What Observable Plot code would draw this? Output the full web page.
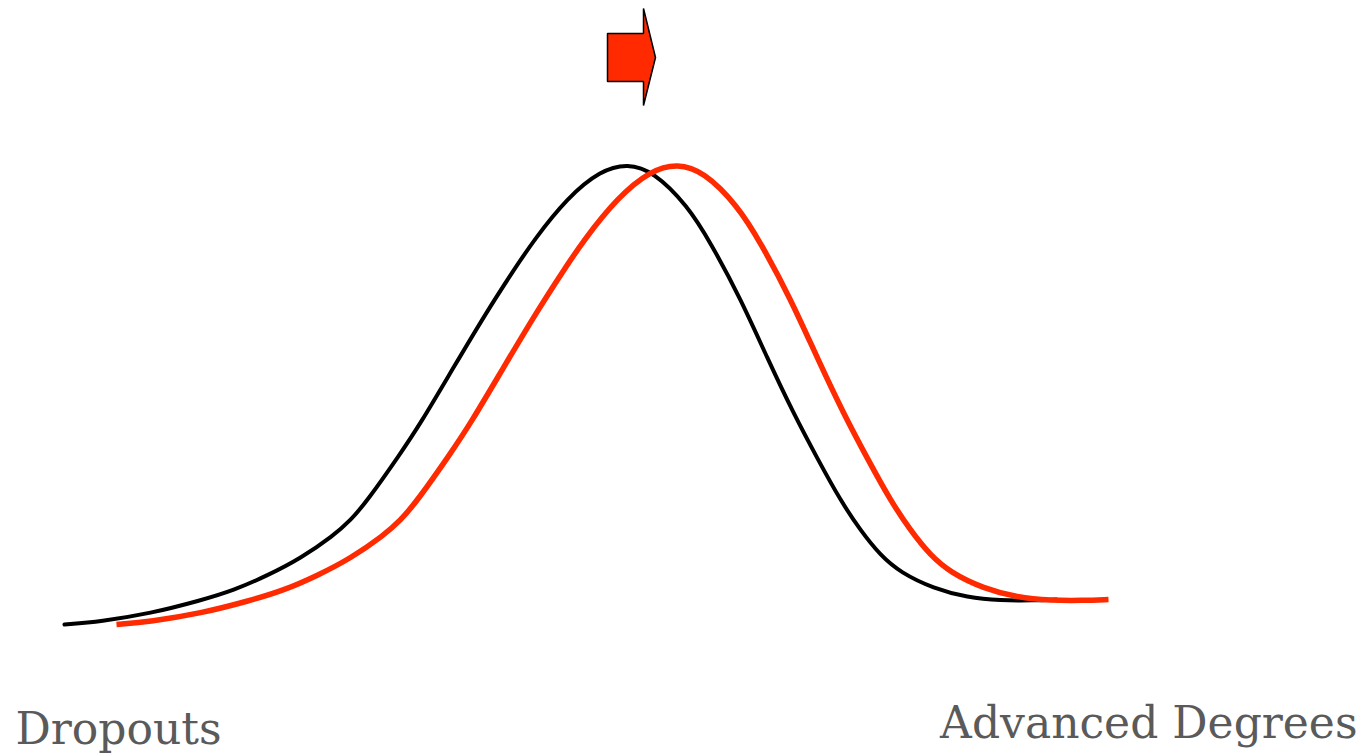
<!DOCTYPE html>
<html>
<head>
<meta charset="utf-8">
<script src="https://cdn.jsdelivr.net/npm/d3@7"></script>
<script src="https://cdn.jsdelivr.net/npm/@observablehq/plot@0.6"></script>
<style>
  html, body { margin: 0; padding: 0; background: #fff; }
  #chart svg { display: block; }
</style>
</head>
<body>
<div id="chart"></div>
<script>
// Black curve (current distribution): education level vs relative density
const blackX = [6.4, 10, 15, 20, 23.3, 26.7, 30, 33.3, 35, 36.7, 40, 42, 45.3, 48.7, 51.3, 53.3, 56.7, 60, 62.7, 65.3, 68.7, 71, 74, 76.7, 79.3, 81.8, 84, 86, 88, 90, 93.3, 96.7, 100, 103.3, 105.6];
const blackY = [13.0, 13.3, 14.1, 15.4, 16.4, 17.9, 19.6, 21.9, 23.4, 25.4, 30.1, 33.1, 38.7, 44.4, 48.4, 51.4, 55.7, 58.4, 59.1, 58.3, 54.9, 51.2, 45.6, 39.6, 34.1, 29.4, 25.4, 22.4, 19.9, 18.2, 16.6, 15.7, 15.4, 15.4, 15.5];

// Red curve (shifted distribution)
const redX = [11.6, 15, 20, 25, 28.3, 31.7, 35, 38.3, 40, 41.7, 45, 47, 50.3, 53.7, 56.3, 58.3, 61.7, 65, 67.7, 70.3, 73.7, 76, 79, 81.7, 84.3, 86.8, 89, 91, 93, 95, 98.3, 101.7, 105, 108.3, 110.8];
const redY = [13.0, 13.3, 14.1, 15.4, 16.4, 17.9, 19.6, 21.9, 23.4, 25.4, 30.1, 33.1, 38.7, 44.4, 48.4, 51.4, 55.7, 58.4, 59.1, 58.3, 54.9, 51.2, 45.6, 39.6, 34.1, 29.4, 25.4, 22.4, 19.9, 18.2, 16.6, 15.7, 15.4, 15.4, 15.5];

// Arrow shape (pointing right) indicating the shift
const arrowX = [60.7, 64.3, 64.3, 65.5, 64.3, 64.3, 60.7];
const arrowY = [72.1, 72.1, 74.6, 69.7, 64.9, 67.3, 67.3];

// End labels
const leftLabel = ["Dropouts"];
const rightLabel = ["Advanced Degrees"];

const black = blackX.map((x, i) => ({x, y: blackY[i]}));
const red = redX.map((x, i) => ({x, y: redY[i]}));
const arrow = arrowX.map((x, i) => ({x, y: arrowY[i]}));

const W = 1367, H = 754;
const chart = Plot.plot({
  width: W,
  height: H,
  margin: 0,
  x: {domain: [0, 136.7], axis: null},
  y: {domain: [0, 75.4], axis: null},
  style: {background: "#fff"},
  marks: [
    Plot.line(black, {x: "x", y: "y", stroke: "#000", strokeWidth: 4, curve: "basis", strokeLinecap: "round"}),
    Plot.line(red, {x: "x", y: "y", stroke: "#ff2a00", strokeWidth: 5.5, curve: "basis", strokeLinecap: "butt"}),
    Plot.line(arrow, {x: "x", y: "y", fill: "#ff2a00", stroke: "#000", strokeWidth: 1.5, curve: "linear-closed", strokeLinejoin: "miter"}),
    Plot.text(leftLabel, {frameAnchor: "bottom-left", dx: 15, dy: -11, fontSize: 44, fill: "#5a5a5a", fontFamily: "DejaVu Serif", textAnchor: "start", lineAnchor: "bottom"}),
    Plot.text(rightLabel, {frameAnchor: "bottom-right", dx: -10, dy: -17, fontSize: 44, fill: "#5a5a5a", fontFamily: "DejaVu Serif", textAnchor: "end", lineAnchor: "bottom"})
  ]
});
document.getElementById("chart").appendChild(chart);
</script>
</body>
</html>
